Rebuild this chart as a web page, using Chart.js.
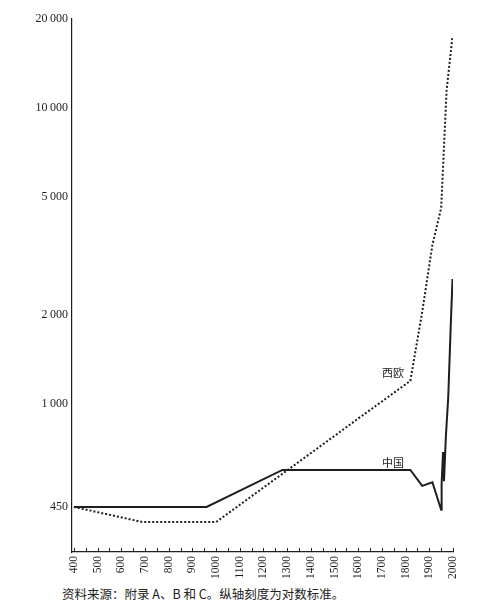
<!DOCTYPE html>
<html>
<head>
<meta charset="utf-8">
<script src="https://cdn.jsdelivr.net/npm/chart.js@4.4.1/dist/chart.umd.min.js"></script>
<style>
html,body{margin:0;padding:0;background:#fff;}
#wrap{position:relative;width:488px;height:614px;}
#chart{position:absolute;left:0;top:0;}
#note{position:absolute;left:62px;top:584px;font:12.5px "Noto Sans CJK SC";color:#222;white-space:nowrap;}
</style>
</head>
<body>
<div id="wrap">
    <canvas id="chart" width="488" height="582"></canvas>
    <div id="note">资料来源：附录 A、B 和 C。纵轴刻度为对数标准。</div>
</div>
<script>
/* ==========================
   DATA
========================== */

const chinaYears  = [400, 960, 1280, 1820, 1870, 1913, 1950, 1952, 1958, 1962, 1970, 1980, 1990, 1998];
const chinaValues = [450, 450, 600, 600, 530, 545, 440, 540, 690, 550, 780, 1060, 1800, 2650];

const westYears  = [400, 690, 1000, 1500, 1600, 1700, 1820, 1870, 1913, 1950, 1973, 1998];
const westValues = [450, 400, 400, 782, 895, 1022, 1200, 2050, 3450, 4600, 11500, 17500];

const xTicks = [400, 500, 600, 700, 800, 900, 1000, 1100, 1200, 1300, 1400, 1500, 1600, 1700, 1800, 1900, 2000];
const yTicks = [450, 1000, 2000, 5000, 10000, 20000];
const yTickLabels = ["450", "1\u2009000", "2\u2009000", "5\u2009000", "10\u2009000", "20\u2009000"];

const seriesLabels = [
    {text: "西欧", x: 1747, y: 1276},
    {text: "中国", x: 1747, y: 634}
];

const ink = "#1e1e1e";

const toPoints = (xs, ys) => xs.map((x, i) => ({x: x, y: ys[i]}));

/* ==========================
   PLUGINS
========================== */

// short upward tick marks every 50 years
const tickMarks = {
    id: "tickMarks",
    afterDraw(chart){
        const ctx = chart.ctx;
        const xs = chart.scales.x;
        const bottom = chart.chartArea.bottom;
        ctx.save();
        ctx.strokeStyle = ink;
        ctx.lineWidth = 1;
        xTicks.forEach((v, i) => {
            const marks = i < xTicks.length - 1 ? [v, v + 50] : [v];
            marks.forEach(m => {
                const px = Math.round(xs.getPixelForValue(m)) + 0.5;
                ctx.beginPath();
                ctx.moveTo(px, bottom);
                ctx.lineTo(px, bottom - 4);
                ctx.stroke();
            });
        });
        ctx.restore();
    }
};

// series names next to the lines
const lineNames = {
    id: "lineNames",
    afterDatasetsDraw(chart){
        const ctx = chart.ctx;
        ctx.save();
        ctx.fillStyle = ink;
        ctx.font = "11px 'Noto Sans CJK SC'";
        ctx.textAlign = "center";
        ctx.textBaseline = "middle";
        seriesLabels.forEach(l => {
            ctx.fillText(
                l.text,
                chart.scales.x.getPixelForValue(l.x),
                chart.scales.y.getPixelForValue(l.y)
            );
        });
        ctx.restore();
    }
};

/* ==========================
   CHART
========================== */

new Chart(document.getElementById("chart"), {

    type: "line",

    data: {
        datasets: [
            {
                label: "中国",
                data: toPoints(chinaYears, chinaValues),
                borderColor: ink,
                borderWidth: 2,
                pointRadius: 0,
                tension: 0
            },
            {
                label: "西欧",
                data: toPoints(westYears, westValues),
                borderColor: ink,
                borderWidth: 2,
                borderDash: [2, 2],
                pointRadius: 0,
                tension: 0
            }
        ]
    },

    options: {
        responsive: false,
        animation: false,
        layout: {
            padding: {top: 19, right: 35, left: 0, bottom: 0}
        },
        plugins: {
            legend: {display: false},
            tooltip: {enabled: false}
        },
        scales: {
            x: {
                type: "linear",
                min: 392,
                max: 2000,
                afterBuildTicks: s => { s.ticks = xTicks.map(v => ({value: v})); },
                afterFit: s => { s.height = 30; },
                grid: {display: false, drawTicks: false},
                border: {display: true, color: ink, width: 1.2},
                ticks: {
                    minRotation: 90,
                    maxRotation: 90,
                    padding: 4,
                    color: ink,
                    font: {family: "Liberation Serif, serif", size: 11.5},
                    callback: v => String(v)
                }
            },
            y: {
                type: "logarithmic",
                min: 317,
                max: 20000,
                afterBuildTicks: s => { s.ticks = yTicks.map(v => ({value: v})); },
                afterFit: s => { s.width = 72; },
                grid: {display: false, drawTicks: false},
                border: {display: true, color: ink, width: 1.2},
                ticks: {
                    padding: 4,
                    color: ink,
                    font: {family: "Liberation Serif, serif", size: 12},
                    callback: v => yTickLabels[yTicks.indexOf(v)]
                }
            }
        }
    },

    plugins: [tickMarks, lineNames]

});
</script>
</body>
</html>
